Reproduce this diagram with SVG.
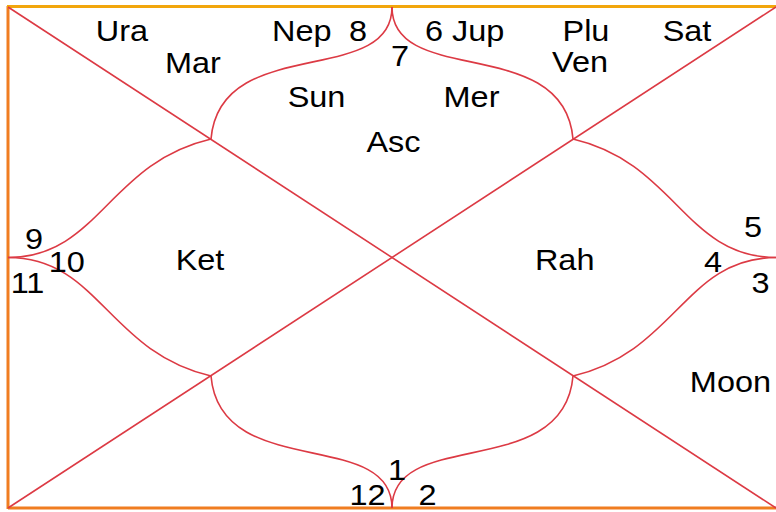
<svg xmlns="http://www.w3.org/2000/svg" width="776" height="512" viewBox="0 0 776 512">
<style>
.ln{fill:none;stroke:#dc3a44;stroke-width:1.6}
.t{font-family:"Liberation Sans",Arial,sans-serif;font-size:29px;fill:#000;text-anchor:middle}
</style>
<rect x="0" y="0" width="776" height="512" fill="#fff"/>
<g id="frame">
<line x1="8" y1="508" x2="778" y2="508" stroke="#f07d20" stroke-width="3"/>
<line x1="8" y1="6" x2="8" y2="509" stroke="#f07d20" stroke-width="3"/>
<line x1="7" y1="6.5" x2="778" y2="6.5" stroke="#f2a60c" stroke-width="3"/>
</g>
<g id="connectors">
<path class="ln" d="M8 7 L776 508"/>
<path class="ln" d="M8 508 L776 7"/>
<path class="ln" d="M211 139 C220 33 392 88 392 7"/>
<path class="ln" d="M573 139 C564 33 392 88 392 7"/>
<path class="ln" d="M211 376 C220 482 392 427 392 508"/>
<path class="ln" d="M573 376 C564 482 392 427 392 508"/>
<path class="ln" d="M211 139 C108 163 99 257.5 8 257.5"/>
<path class="ln" d="M211 376 C108 352 99 257.5 8 257.5"/>
<path class="ln" d="M573 139 C676 163 685 257.5 776 257.5"/>
<path class="ln" d="M573 376 C676 352 685 257.5 776 257.5"/>
</g>
<g id="house1" class="t" transform="scale(1.12 1)">
<text x="357.1" y="66">7</text>
<text x="282.6" y="107">Sun</text>
<text x="421" y="107">Mer</text>
<text x="351.3" y="152">Asc</text>
</g>
<g id="house2" class="t" transform="scale(1.12 1)">
<text x="108.9" y="41">Ura</text>
<text x="172.3" y="73">Mar</text>
<text x="269.4" y="41">Nep</text>
<text x="319.6" y="41">8</text>
</g>
<g id="house3" class="t" transform="scale(1.12 1)">
<text x="30.4" y="249">9</text>
</g>
<g id="house4" class="t" transform="scale(1.12 1)">
<text x="59.6" y="272">10</text>
<text x="178.6" y="270">Ket</text>
</g>
<g id="house5" class="t" transform="scale(1.12 1)">
<text x="24.6" y="293">11</text>
</g>
<g id="house6" class="t" transform="scale(1.12 1)">
<text x="328.1" y="505">12</text>
</g>
<g id="house7" class="t" transform="scale(1.12 1)">
<text x="354.5" y="480">1</text>
</g>
<g id="house8" class="t" transform="scale(1.12 1)">
<text x="381.7" y="505">2</text>
</g>
<g id="house9" class="t" transform="scale(1.12 1)">
<text x="679" y="293">3</text>
<text x="652.2" y="392">Moon</text>
</g>
<g id="house10" class="t" transform="scale(1.12 1)">
<text x="636.6" y="272">4</text>
<text x="504.2" y="270">Rah</text>
</g>
<g id="house11" class="t" transform="scale(1.12 1)">
<text x="672.3" y="237">5</text>
</g>
<g id="house12" class="t" transform="scale(1.12 1)">
<text x="414.9" y="41">6 Jup</text>
<text x="523.2" y="41">Plu</text>
<text x="517.9" y="72">Ven</text>
<text x="613.4" y="41">Sat</text>
</g>
</svg>
